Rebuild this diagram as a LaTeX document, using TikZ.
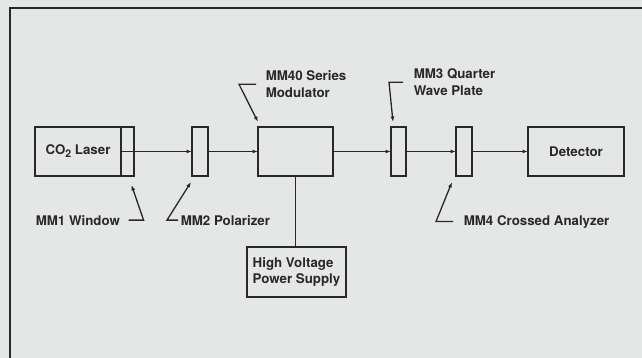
\documentclass[tikz,border=0pt]{standalone}
\usepackage{fontspec}
\setmainfont{TeX Gyre Heros}
\usepackage{tikz}
\usetikzlibrary{positioning,arrows.meta,calc}
\definecolor{paper}{RGB}{229,230,230}
\definecolor{ink}{RGB}{40,40,40}

\begin{document}
\begin{tikzpicture}[x=1pt,y=-1pt,>={Latex[length=5.5pt,width=4pt]},
  font=\fontsize{13.3}{17}\selectfont\bfseries,ink,line width=1.5pt,
  comp/.style={draw,minimum height=49pt,inner sep=0pt,outer sep=0pt},
  lbl/.style={inner sep=0pt,align=left},
  lead/.style={->,line width=1.3pt}]
  \useasboundingbox (0,0) rectangle (642,358);
  \fill[paper] (0,0) rectangle (642,358);
  \draw[line width=2pt] (9.5,358) -- (9.5,8.5) -- (642,8.5);
  % optical bench
  \node[comp,minimum width=86pt] (laser) at (78,151.5) {CO\raisebox{-3pt}{\fontsize{10.5}{10.5}\selectfont 2} Laser};
  \node[comp,minimum width=13pt,anchor=west] (window) at (laser.east) {};
  \node[comp,minimum width=16pt] (polarizer) at (200,151.5) {};
  \node[comp,minimum width=75pt] (modulator) at (295.5,151.5) {};
  \node[comp,minimum width=15pt] (quarter) at (398.5,151.5) {};
  \node[comp,minimum width=16pt] (analyzer) at (464,151.5) {};
  \node[comp,minimum width=96pt] (detector) at (576,151.5) {Detector};
  \node[comp,minimum width=99pt,minimum height=50pt,align=left] (supply) at (296.5,272) {High Voltage\\Power Supply};
  \draw[->] (window.west) -- (polarizer.west);
  \draw[->] (polarizer.east) -- (modulator.west);
  \draw[->] (modulator.east) -- (quarter.west);
  \draw[->] (quarter.east) -- (analyzer.west);
  \draw[->] (analyzer.east) -- (detector.west);
  \draw (modulator.south) -- (supply.north -| modulator.south);
  % labels
  \node[lbl,anchor=base west] (lwindow) at (35,225) {MM1 Window};
  \node[lbl,anchor=base west] (lpolarizer) at (180,225) {MM2 Polarizer};
  \node[lbl,anchor=base west] (lanalyzer) at (463,225) {MM4 Crossed Analyzer};
  \node[lbl,anchor=north west] (lmodulator) at (265,70) {MM40 Series\\Modulator};
  \node[lbl,anchor=north west] (lquarter) at (413,68) {MM3 Quarter\\Wave Plate};
  \draw[lead] ($(lwindow.east)+(8,0)$) -- ++(15,0) -- ($(window.south)+(4,9)$);
  \draw[lead] ($(lpolarizer.west)+(-2,0)$) -- ++(-11,0) -- ($(polarizer.south)+(-9,6)$);
  \draw[lead] ($(lanalyzer.west)+(-10,0)$) -- ++(-17,0) -- ($(analyzer.south)+(-12,6)$);
  \draw[lead] ($(lmodulator.west)+(-9,0)$) -- ++(-17,0) -- ($(modulator.north west)+(0,-5)$);
  \draw[lead] ($(lquarter.west)+(-10,0)$) -- ++(-14,0) -- ($(quarter.north)+(-5.5,-5)$);
\end{tikzpicture}
\end{document}
